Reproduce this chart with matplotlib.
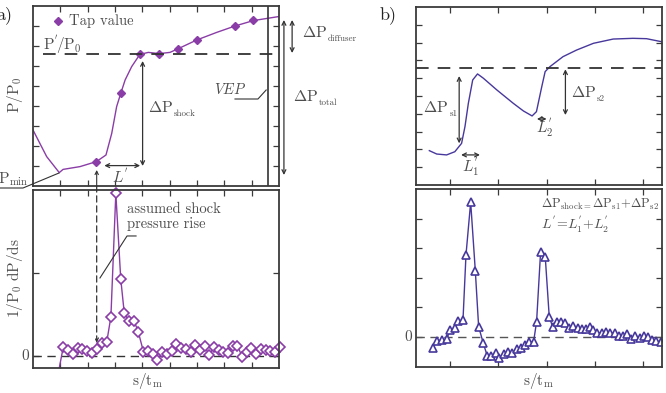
import matplotlib
matplotlib.use("Agg")
import matplotlib.pyplot as plt

plt.rcParams['font.family'] = ['cmr10', 'DejaVu Serif']
plt.rcParams['mathtext.fontset'] = 'cm'
plt.rcParams['axes.unicode_minus'] = False
plt.rcParams['axes.formatter.use_mathtext'] = True

# ---- panel a) data ----
# wall pressure along the duct (top)
a_s = [0.0, 0.5, 0.96, 1.1, 1.72, 2.32, 2.67, 2.88, 3.06, 3.21, 3.37, 3.61, 3.91,
       4.22, 4.62, 5.01, 5.32, 5.99, 6.72, 7.39, 8.06, 8.98]
a_p = [2.8, 1.47, 0.67, 0.83, 0.97, 1.22, 1.55, 2.63, 3.97, 4.63, 5.3, 5.97, 6.58,
       6.68, 6.62, 6.68, 6.87, 7.3, 7.68, 8.0, 8.27, 8.47]
tap_s = [2.32, 3.21, 3.91, 4.62, 5.32, 5.99, 7.39, 8.06]
tap_p = [1.22, 4.63, 6.58, 6.62, 6.87, 7.3, 8.0, 8.3]
a_pstar = 6.58
a_vep = 8.6

# pressure gradient (bottom)
a_ds = [0.9, 1.11, 1.29, 1.45, 1.64, 1.80, 1.99, 2.16, 2.33, 2.51, 2.70, 2.85, 3.03,
        3.21, 3.34, 3.51, 3.70, 3.85, 4.04, 4.21, 4.38, 4.55, 4.73, 4.90, 5.07,
        5.24, 5.42, 5.59, 5.77, 5.94, 6.11, 6.28, 6.45, 6.62, 6.79, 6.96, 7.14,
        7.31, 7.48, 7.65, 7.82, 7.99, 8.16, 8.33, 8.51, 8.68, 8.85, 9.03]
a_dp = [-0.25, 0.112, 0.072, 0.024, 0.100, 0.081, 0.060, 0.033, 0.081, 0.153, 0.172,
        0.473, 1.96, 0.928, 0.514, 0.425, 0.418, 0.293, 0.052, 0.064, 0.020,
        -0.048, 0.045, 0.024, 0.064, 0.141, 0.100, 0.084, 0.045, 0.133, 0.072,
        0.120, 0.008, 0.112, 0.072, 0.045, 0.033, 0.120, 0.124, -0.008, 0.052,
        0.093, 0.024, 0.084, 0.072, 0.060, 0.048, 0.112]

# ---- panel b) data ----
b_s = [0.572, 0.725, 0.93, 1.10, 1.24, 1.31, 1.38, 1.47, 1.57, 1.69, 1.97, 2.31,
       2.52, 2.70, 2.79, 2.90, 2.97, 3.07, 3.34, 3.62, 3.97, 4.38, 4.79, 5.07, 5.38]
b_p = [1.93, 1.74, 1.69, 1.87, 2.34, 3.28, 4.59, 5.90, 6.24, 6.0, 5.34, 4.59,
       4.16, 3.88, 4.12, 5.52, 6.37, 6.65, 7.21, 7.58, 7.96, 8.2, 8.24, 8.22, 8.05]
b_pstar = 6.56

b_ds = [0.642, 0.737, 0.828, 0.931, 1.0, 1.103, 1.172, 1.269, 1.331, 1.428, 1.524,
        1.593, 1.69, 1.772, 1.855, 1.945, 2.02, 2.117, 2.193, 2.29, 2.38, 2.463,
        2.545, 2.635, 2.731, 2.793, 2.876, 2.972, 3.055, 3.124, 3.207, 3.303,
        3.386, 3.469, 3.552, 3.641, 3.724, 3.814, 3.897, 3.966, 4.048, 4.139,
        4.234, 4.311, 4.408, 4.49, 4.573, 4.669, 4.752, 4.834, 4.925, 5.014,
        5.09, 5.173, 5.262, 5.36]
b_dp = [-0.374, -0.146, -0.112, -0.088, 0.228, 0.306, 0.534, 0.568, 2.78, 4.57,
        2.245, 0.34, -0.224, -0.656, -0.646, -0.544, -0.714, -0.588, -0.531,
        -0.544, -0.429, -0.395, -0.282, -0.17, -0.17, 0.51, 2.88, 2.72, 0.68,
        0.34, 0.51, 0.49, 0.476, 0.286, 0.364, 0.296, 0.252, 0.252, 0.34, 0.228,
        0.136, 0.136, 0.17, 0.136, 0.116, 0.024, 0.024, 0.092, -0.078, 0.034,
        -0.034, 0.024, -0.02, -0.102, -0.146, -0.17]

purple = '#8a3da6'
indigo = '#47389c'
txt = '#4d4d4d'
frame = '#3a3a3a'

W, H = 666, 393
fig = plt.figure(figsize=(W / 100, H / 100), dpi=100)


def box(x0, y0, x1, y1):
    # pixel box (top-left origin) -> figure fraction rect
    return [x0 / W, 1 - y1 / H, (x1 - x0) / W, (y1 - y0) / H]


def fpos(x, y):
    return x / W, 1 - y / H


def style(ax):
    for sp in ax.spines.values():
        sp.set_color(frame)
        sp.set_linewidth(1.3)
    ax.tick_params(direction='in', length=4, width=0.9, color=frame,
                   top=True, right=True, labelbottom=False, labelleft=False)


def darrow(ax, p0, p1, lw=0.9):
    ax.annotate('', xy=p1, xytext=p0, annotation_clip=False,
                arrowprops=dict(arrowstyle='<->', color='#333333', lw=lw,
                                shrinkA=0, shrinkB=0,
                                mutation_scale=7))


def dp_label(ax, x, y, sub, size=11.5, subsize=6.5):
    # "Delta P" with a small, low subscript like in the original figure
    main = ax.text(x, y, r'$\Delta\mathrm{P}$', color=txt, fontsize=size,
                   va='bottom', ha='left')
    ax.annotate(sub, xy=(1, 0), xycoords=main, xytext=(0.6, -2.5),
                textcoords='offset points', color=txt, fontsize=subsize,
                va='bottom', ha='left', annotation_clip=False)


ax1 = fig.add_axes(box(33, 6, 279, 186))
ax2 = fig.add_axes(box(33, 190, 279, 368))
ax3 = fig.add_axes(box(416, 7, 662, 185))
ax4 = fig.add_axes(box(416, 189, 662, 367))
for ax in (ax1, ax2, ax3, ax4):
    style(ax)

# ---------- a) top ----------
ax1.set_xlim(0, 9)
ax1.set_ylim(0, 9)
ax1.set_xticks(range(1, 9))
ax1.set_yticks(range(1, 9))
ax1.plot(a_s, a_p, color=purple, lw=1.0)
ax1.plot(tap_s, tap_p, 'D', color=purple, ms=3.6, ls='none')
ax1.plot([0.91], [8.25], 'D', color=purple, ms=3.6)
ax1.text(1.3, 8.25, 'Tap value', color=txt, fontsize=10.5, va='center')
ax1.plot([0.35, 9], [a_pstar, a_pstar], color='#333333', lw=1.3, dashes=(7, 5))
ax1.text(0.37, 7.05, r"$\mathrm{P}^{'}\!/\mathrm{P}_{0}$", color=txt,
         fontsize=11, va='center')
ax1.axvline(a_vep, color='#333333', lw=1.2)
ax1.text(6.62, 4.8, r'$\mathit{VEP}$', color=txt, fontsize=10.5, va='center')
ax1.plot([7.39, 8.23, 8.53], [4.35, 4.35, 4.8], color='#333333', lw=0.8)
darrow(ax1, (4.01, 6.25), (4.01, 1.0))
dp_label(ax1, 4.2, 3.55, 'shock')
darrow(ax1, (2.61, 1.02), (3.92, 1.02))
ax1.text(3.2, 0.45, r"$L^{'}$", color=txt, fontsize=11, ha='center',
         va='center')
ax1.annotate('', xy=(2.33, 0.8), xytext=(2.33, 0.0), annotation_clip=False,
             arrowprops=dict(arrowstyle='->', color='#333333', lw=0.8,
                             shrinkA=0, shrinkB=0, mutation_scale=6))
# delta p diffuser / total
darrow(ax1, (9.48, 8.3), (9.48, 6.65))
darrow(ax1, (9.18, 8.3), (9.18, 0.55))
dp_label(ax1, 9.84, 7.3, 'diffuser')
dp_label(ax1, 9.51, 4.1, 'total')

# ---------- a) bottom ----------
ax2.set_xlim(0, 9)
ax2.set_ylim(-0.145, 2.0)
ax2.set_xticks(range(1, 9))
ax2.set_yticks([0, 1])
ax2.plot([0, 9], [0, 0], color='#333333', lw=1.0, dashes=(6, 4))
ax2.plot(a_ds, a_dp, color=purple, lw=1.0)
ax2.plot(a_ds[1:], a_dp[1:], 'D', ms=5.5, mfc='white', mec=purple, mew=1.2,
         ls='none', clip_on=False)
ax2.annotate('', xy=(2.33, 0.16), xytext=(2.33, 2.05), annotation_clip=False,
             arrowprops=dict(arrowstyle='->', color='#333333', lw=0.9,
                             ls=(0, (5, 3)), shrinkA=0, shrinkB=0,
                             mutation_scale=6))
ax2.text(3.44, 1.68, 'assumed shock\npressure rise', color=txt, fontsize=10.5,
         va='center', linespacing=1.1)
ax2.plot([3.77, 3.44, 2.45], [1.446, 1.446, 0.94], color='#333333', lw=0.8)

# ---------- b) top ----------
ax3.set_xlim(0.296, 5.39)
ax3.set_ylim(0, 10)
ax3.set_xticks(range(1, 6))
ax3.set_yticks(range(1, 10))
ax3.plot(b_s, b_p, color=indigo, lw=1.0)
ax3.plot([0.296, 5.39], [b_pstar, b_pstar], color='#333333', lw=1.3,
         dashes=(7, 5))
darrow(ax3, (1.19, 6.12), (1.19, 2.34))
dp_label(ax3, 0.45, 3.95, 's1')
darrow(ax3, (1.23, 1.69), (1.62, 1.69))
ax3.text(1.43, 1.0, r"$L^{'}_{1}$", color=txt, fontsize=11, ha='center',
         va='center')
darrow(ax3, (3.39, 6.5), (3.39, 3.93))
dp_label(ax3, 3.5, 4.8, 's2')
darrow(ax3, (2.80, 3.71), (3.00, 3.71))
ax3.text(2.95, 3.2, r"$L^{'}_{2}$", color=txt, fontsize=11, ha='center',
         va='center')

# ---------- b) bottom ----------
ax4.set_xlim(0.296, 5.39)
ax4.set_ylim(-1.03, 5.02)
ax4.set_xticks(range(1, 6))
ax4.set_yticks(range(0, 5))
ax4.plot([0.296, 5.39], [0, 0], color='#555555', lw=1.0, dashes=(6, 4))
ax4.plot(b_ds, b_dp, color=indigo, lw=1.0, marker='^', ms=5.5, mfc='white',
         mec=indigo, mew=1.2)
ax4.text(2.88, 4.48,
         r'$\Delta\mathrm{P}_{\mathrm{shock=}}\Delta\mathrm{P}_{\mathrm{s1}}'
         r'{+}\Delta\mathrm{P}_{\mathrm{s2}}$', color=txt, fontsize=9,
         va='center')
ax4.text(2.88, 3.82, r"$L^{'}\!=\!L^{'}_{1}{+}L^{'}_{2}$", color=txt,
         fontsize=10, va='center')

# ---------- labels outside the axes ----------
fig.text(*fpos(-4, 15), 'a)', color='#222222', fontsize=13, va='center')
fig.text(*fpos(380, 15), 'b)', color='#222222', fontsize=13, va='center')
fig.text(*fpos(15, 95), r'$\mathrm{P/P_{0}}$', color=txt, fontsize=11,
         rotation=90, ha='center', va='center')
fig.text(*fpos(15, 278), r'$\mathrm{1/P_{0}\ dP/ds}$', color=txt,
         fontsize=11, rotation=90, ha='center', va='center')
fig.text(*fpos(25, 356), '0', color=txt, fontsize=11, ha='center',
         va='center')
fig.text(*fpos(408, 337), '0', color=txt, fontsize=11, ha='center',
         va='center')
fig.text(*fpos(147, 381), r'$\mathrm{s/t_{m}}$', color=txt, fontsize=11,
         ha='center', va='center')
fig.text(*fpos(538, 381), r'$\mathrm{s/t_{m}}$', color=txt, fontsize=11,
         ha='center', va='center')
fig.text(*fpos(-2, 179), r'$\mathrm{P_{min}}$', color=txt, fontsize=11,
         va='center')
pmin_x = [0, 23, 59]
pmin_y = [188, 188, 173]
fig.add_artist(plt.Line2D([x / W for x in pmin_x], [1 - y / H for y in pmin_y],
                          color='#333333', lw=0.8))

fig.savefig('out.png', dpi=100)
